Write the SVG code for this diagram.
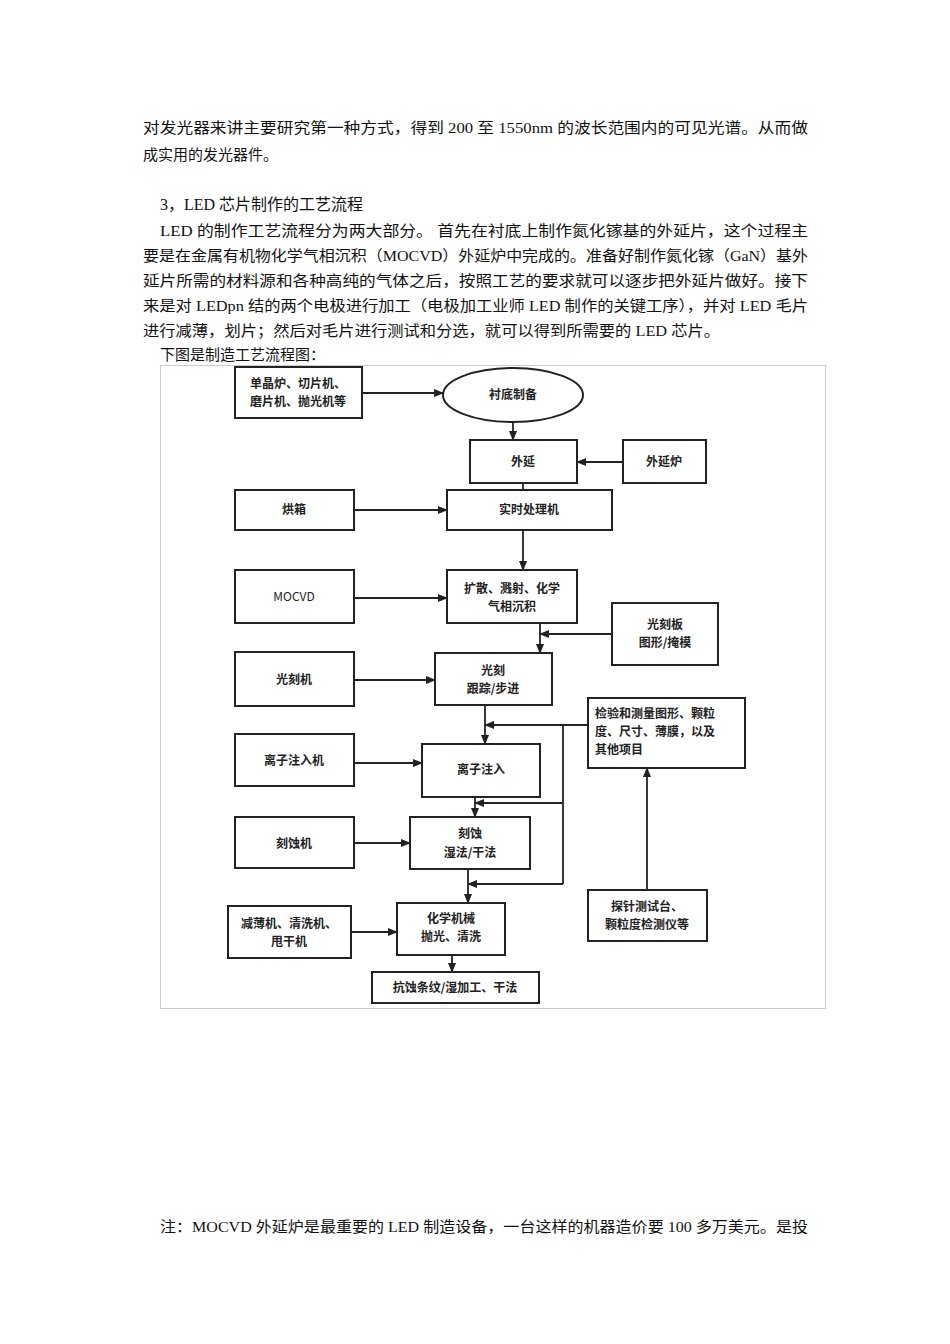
<svg xmlns="http://www.w3.org/2000/svg" width="950" height="1344" viewBox="0 0 950 1344">
<defs>
<marker id="a" markerWidth="10" markerHeight="8" refX="9" refY="4" orient="auto" markerUnits="userSpaceOnUse"><path d="M0,0 L10,4 L0,8 Z" fill="#222"/></marker>
</defs>
<style>
.t{font-family:"Liberation Serif","Noto Sans CJK SC",serif;font-size:15px;fill:#111}
.n rect,.n ellipse{fill:#fff;stroke:#222;stroke-width:2}
.n text{font-family:"Noto Sans CJK SC",sans-serif;font-size:12px;font-weight:bold;fill:#222;text-anchor:middle}
#c line,#c polyline{stroke:#222;stroke-width:1.8;fill:none}
</style>
<rect width="950" height="1344" fill="#fff"/>
<text class="t" x="143" y="133" textLength="665" lengthAdjust="spacingAndGlyphs">对发光器来讲主要研究第一种方式，得到 200 至 1550nm 的波长范围内的可见光谱。从而做</text>
<text class="t" x="143" y="160">成实用的发光器件。</text>
<text class="t" x="160" y="210" style="font-size:16px">3，LED 芯片制作的工艺流程</text>
<text class="t" x="160" y="236" textLength="648" lengthAdjust="spacingAndGlyphs">LED 的制作工艺流程分为两大部分。 首先在衬底上制作氮化镓基的外延片，这个过程主</text>
<text class="t" x="143" y="261" textLength="665" lengthAdjust="spacingAndGlyphs">要是在金属有机物化学气相沉积（MOCVD）外延炉中完成的。准备好制作氮化镓（GaN）基外</text>
<text class="t" x="143" y="286" textLength="665" lengthAdjust="spacingAndGlyphs">延片所需的材料源和各种高纯的气体之后，按照工艺的要求就可以逐步把外延片做好。接下</text>
<text class="t" x="143" y="311" textLength="665" lengthAdjust="spacingAndGlyphs">来是对 LEDpn 结的两个电极进行加工（电极加工业师 LED 制作的关键工序），并对 LED 毛片</text>
<text class="t" x="143" y="336" textLength="577" lengthAdjust="spacingAndGlyphs">进行减薄，划片；然后对毛片进行测试和分选，就可以得到所需要的 LED 芯片。</text>
<text class="t" x="160" y="360">下图是制造工艺流程图：</text>
<text class="t" x="160" y="1232" textLength="648" lengthAdjust="spacingAndGlyphs">注：MOCVD 外延炉是最重要的 LED 制造设备，一台这样的机器造价要 100 多万美元。是投</text>
<rect x="160.5" y="365.5" width="665" height="643" fill="none" stroke="#ccc" stroke-width="1"/>
<g id="c">
<line x1="362" y1="393" x2="443" y2="393" marker-end="url(#a)"/>
<line x1="513" y1="422" x2="513" y2="440" marker-end="url(#a)"/>
<line x1="623" y1="462" x2="577" y2="462" marker-end="url(#a)"/>
<line x1="523" y1="483" x2="523" y2="490"/>
<line x1="354" y1="510" x2="447" y2="510" marker-end="url(#a)"/>
<line x1="523" y1="530" x2="523" y2="570" marker-end="url(#a)"/>
<line x1="354" y1="598" x2="447" y2="598" marker-end="url(#a)"/>
<line x1="540" y1="623" x2="540" y2="653" marker-end="url(#a)"/>
<line x1="612" y1="634" x2="540" y2="634" marker-end="url(#a)"/>
<line x1="354" y1="680" x2="435" y2="680" marker-end="url(#a)"/>
<line x1="485" y1="705" x2="485" y2="744" marker-end="url(#a)"/>
<line x1="588" y1="725" x2="485" y2="725" marker-end="url(#a)"/>
<line x1="563" y1="725" x2="563" y2="884"/>
<line x1="563" y1="803" x2="475" y2="803" marker-end="url(#a)"/>
<line x1="563" y1="884" x2="468" y2="884" marker-end="url(#a)"/>
<line x1="354" y1="763" x2="422" y2="763" marker-end="url(#a)"/>
<line x1="475" y1="797" x2="475" y2="817" marker-end="url(#a)"/>
<line x1="354" y1="843" x2="410" y2="843" marker-end="url(#a)"/>
<line x1="468" y1="869" x2="468" y2="903" marker-end="url(#a)"/>
<line x1="351" y1="932" x2="397" y2="932" marker-end="url(#a)"/>
<line x1="452" y1="955" x2="452" y2="972" marker-end="url(#a)"/>
<line x1="647" y1="890" x2="647" y2="768" marker-end="url(#a)"/>
</g>
<g class="n" id="n1"><rect x="235" y="367" width="127" height="51"/><text x="298" y="388">单晶炉、切片机、</text><text x="298" y="406">磨片机、抛光机等</text></g>
<g class="n" id="n2"><ellipse cx="513" cy="395" rx="70" ry="27"/><text x="513" y="399">衬底制备</text></g>
<g class="n" id="n3"><rect x="470" y="440" width="107" height="43"/><text x="523" y="466">外延</text></g>
<g class="n" id="n4"><rect x="623" y="440" width="83" height="43"/><text x="664" y="466">外延炉</text></g>
<g class="n" id="n5"><rect x="235" y="490" width="119" height="40"/><text x="294" y="514">烘箱</text></g>
<g class="n" id="n6"><rect x="447" y="490" width="165" height="40"/><text x="529" y="514">实时处理机</text></g>
<g class="n" id="n7"><rect x="235" y="570" width="119" height="53"/><text x="294" y="601" style="font-weight:normal">MOCVD</text></g>
<g class="n" id="n8"><rect x="447" y="570" width="130" height="53"/><text x="512" y="593">扩散、溅射、化学</text><text x="512" y="611">气相沉积</text></g>
<g class="n" id="n9"><rect x="612" y="603" width="106" height="62"/><text x="665" y="629">光刻板</text><text x="665" y="647">图形/掩模</text></g>
<g class="n" id="n10"><rect x="235" y="652" width="119" height="54"/><text x="294" y="684">光刻机</text></g>
<g class="n" id="n11"><rect x="435" y="653" width="117" height="52"/><text x="493" y="675">光刻</text><text x="493" y="693">跟踪/步进</text></g>
<g class="n" id="n12"><rect x="588" y="698" width="157" height="70"/><text x="595" y="718" style="text-anchor:start">检验和测量图形、颗粒</text><text x="595" y="736" style="text-anchor:start">度、尺寸、薄膜，以及</text><text x="595" y="754" style="text-anchor:start">其他项目</text></g>
<g class="n" id="n13"><rect x="235" y="734" width="119" height="52"/><text x="294" y="765">离子注入机</text></g>
<g class="n" id="n14"><rect x="422" y="744" width="118" height="53"/><text x="481" y="774">离子注入</text></g>
<g class="n" id="n15"><rect x="235" y="817" width="119" height="51"/><text x="294" y="848">刻蚀机</text></g>
<g class="n" id="n16"><rect x="410" y="817" width="120" height="52"/><text x="470" y="838">刻蚀</text><text x="470" y="857">湿法/干法</text></g>
<g class="n" id="n17"><rect x="588" y="890" width="119" height="51"/><text x="647" y="911">探针测试台、</text><text x="647" y="929">颗粒度检测仪等</text></g>
<g class="n" id="n18"><rect x="228" y="906" width="123" height="52"/><text x="289" y="928">减薄机、清洗机、</text><text x="289" y="946">甩干机</text></g>
<g class="n" id="n19"><rect x="397" y="903" width="108" height="52"/><text x="451" y="923">化学机械</text><text x="451" y="941">抛光、清洗</text></g>
<g class="n" id="n20"><rect x="372" y="972" width="167" height="31"/><text x="455" y="992">抗蚀条纹/湿加工、干法</text></g>
</svg>
